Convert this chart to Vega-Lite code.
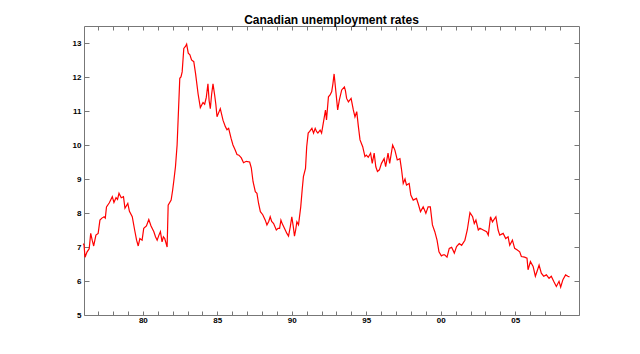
{
  "$schema": "https://vega.github.io/schema/vega-lite/v6.json",
  "width": 495,
  "height": 289,
  "autosize": {"type": "none"},
  "padding": {"left": 84, "top": 26, "right": 61, "bottom": 39},
  "background": "white",
  "title": {
    "text": "Canadian unemployment rates",
    "font": "Liberation Sans",
    "fontSize": 12,
    "fontWeight": "bold",
    "color": "black",
    "anchor": "middle",
    "baseline": "alphabetic",
    "offset": -10
  },
  "config": {
    "view": {"stroke": null},
    "axis": {
      "grid": false,
      "domainColor": "#777777",
      "tickColor": "#777777",
      "domainWidth": 1,
      "tickWidth": 1,
      "labelFont": "Liberation Sans",
      "labelFontSize": 8,
      "labelFontWeight": "bold",
      "labelColor": "black",
      "title": null
    }
  },
  "data": {"values": [
    {"t":1976.0,"u":7.1},{"t":1976.05,"u":7.06},{"t":1976.12,"u":6.7},{"t":1976.25,"u":6.85},{"t":1976.4,"u":6.95},
    {"t":1976.5,"u":7.4},{"t":1976.6,"u":7.2},{"t":1976.7,"u":7.03},{"t":1976.85,"u":7.35},{"t":1977.0,"u":7.4},
    {"t":1977.12,"u":7.79},{"t":1977.25,"u":7.85},{"t":1977.4,"u":7.89},{"t":1977.48,"u":7.85},{"t":1977.56,"u":8.18},
    {"t":1977.75,"u":8.3},{"t":1977.95,"u":8.48},{"t":1978.06,"u":8.31},{"t":1978.2,"u":8.45},{"t":1978.3,"u":8.4},
    {"t":1978.4,"u":8.58},{"t":1978.55,"u":8.45},{"t":1978.7,"u":8.48},{"t":1978.8,"u":8.14},{"t":1978.99,"u":8.28},
    {"t":1979.1,"u":8.05},{"t":1979.29,"u":7.89},{"t":1979.45,"u":7.5},{"t":1979.58,"u":7.2},{"t":1979.69,"u":7.03},
    {"t":1979.8,"u":7.25},{"t":1979.95,"u":7.2},{"t":1980.06,"u":7.55},{"t":1980.24,"u":7.62},{"t":1980.4,"u":7.81},
    {"t":1980.55,"u":7.62},{"t":1980.74,"u":7.45},{"t":1980.85,"u":7.3},{"t":1980.96,"u":7.2},{"t":1981.08,"u":7.35},
    {"t":1981.18,"u":7.45},{"t":1981.29,"u":7.15},{"t":1981.38,"u":7.3},{"t":1981.47,"u":7.25},{"t":1981.63,"u":7.0},
    {"t":1981.7,"u":8.23},{"t":1981.9,"u":8.38},{"t":1982.0,"u":8.67},{"t":1982.08,"u":8.95},{"t":1982.19,"u":9.36},
    {"t":1982.3,"u":10.0},{"t":1982.48,"u":11.96},{"t":1982.56,"u":12.0},{"t":1982.64,"u":12.15},{"t":1982.75,"u":12.84},
    {"t":1982.86,"u":12.9},{"t":1982.94,"u":12.97},{"t":1983.05,"u":12.7},{"t":1983.16,"u":12.65},{"t":1983.27,"u":12.5},
    {"t":1983.42,"u":12.45},{"t":1983.54,"u":12.1},{"t":1983.71,"u":11.5},{"t":1983.86,"u":11.1},{"t":1984.04,"u":11.25},
    {"t":1984.15,"u":11.2},{"t":1984.26,"u":11.4},{"t":1984.37,"u":11.8},{"t":1984.45,"u":11.3},{"t":1984.53,"u":11.07},
    {"t":1984.62,"u":11.5},{"t":1984.71,"u":11.8},{"t":1984.82,"u":11.47},{"t":1984.9,"u":11.2},{"t":1984.98,"u":10.83},
    {"t":1985.2,"u":11.07},{"t":1985.38,"u":10.73},{"t":1985.54,"u":10.54},{"t":1985.65,"u":10.45},{"t":1985.76,"u":10.49},
    {"t":1985.92,"u":10.2},{"t":1986.05,"u":10.0},{"t":1986.2,"u":9.85},{"t":1986.32,"u":9.72},{"t":1986.45,"u":9.7},
    {"t":1986.61,"u":9.62},{"t":1986.76,"u":9.48},{"t":1986.94,"u":9.52},{"t":1987.17,"u":9.5},{"t":1987.28,"u":9.33},
    {"t":1987.4,"u":8.92},{"t":1987.55,"u":8.63},{"t":1987.66,"u":8.58},{"t":1987.77,"u":8.28},{"t":1987.89,"u":8.04},
    {"t":1988.05,"u":7.95},{"t":1988.22,"u":7.79},{"t":1988.33,"u":7.65},{"t":1988.45,"u":7.75},{"t":1988.55,"u":7.89},
    {"t":1988.65,"u":7.75},{"t":1988.78,"u":7.69},{"t":1988.96,"u":7.5},{"t":1989.08,"u":7.55},{"t":1989.18,"u":7.55},
    {"t":1989.27,"u":7.79},{"t":1989.36,"u":7.68},{"t":1989.45,"u":7.6},{"t":1989.56,"u":7.5},{"t":1989.67,"u":7.4},
    {"t":1989.78,"u":7.32},{"t":1989.9,"u":7.6},{"t":1990.0,"u":7.89},{"t":1990.1,"u":7.6},{"t":1990.18,"u":7.32},
    {"t":1990.26,"u":7.5},{"t":1990.34,"u":7.74},{"t":1990.45,"u":7.65},{"t":1990.6,"u":8.18},{"t":1990.7,"u":8.7},
    {"t":1990.78,"u":9.07},{"t":1990.92,"u":9.31},{"t":1991.0,"u":9.95},{"t":1991.1,"u":10.35},{"t":1991.2,"u":10.4},
    {"t":1991.35,"u":10.49},{"t":1991.46,"u":10.35},{"t":1991.57,"u":10.49},{"t":1991.66,"u":10.4},{"t":1991.75,"u":10.35},
    {"t":1991.9,"u":10.44},{"t":1992.0,"u":10.35},{"t":1992.15,"u":10.74},{"t":1992.26,"u":11.03},{"t":1992.33,"u":10.74},
    {"t":1992.46,"u":11.42},{"t":1992.57,"u":11.47},{"t":1992.68,"u":11.57},{"t":1992.76,"u":11.8},{"t":1992.84,"u":12.09},
    {"t":1992.97,"u":11.52},{"t":1993.08,"u":11.03},{"t":1993.19,"u":11.32},{"t":1993.35,"u":11.62},{"t":1993.53,"u":11.71},
    {"t":1993.6,"u":11.6},{"t":1993.68,"u":11.37},{"t":1993.8,"u":11.27},{"t":1993.98,"u":11.37},{"t":1994.13,"u":11.03},
    {"t":1994.24,"u":10.83},{"t":1994.36,"u":10.98},{"t":1994.47,"u":10.54},{"t":1994.58,"u":10.15},{"t":1994.76,"u":9.95},
    {"t":1994.91,"u":9.66},{"t":1995.0,"u":9.7},{"t":1995.13,"u":9.64},{"t":1995.29,"u":9.76},{"t":1995.4,"u":9.46},
    {"t":1995.53,"u":9.76},{"t":1995.64,"u":9.36},{"t":1995.75,"u":9.22},{"t":1995.88,"u":9.27},{"t":1996.02,"u":9.46},
    {"t":1996.2,"u":9.6},{"t":1996.3,"u":9.36},{"t":1996.46,"u":9.76},{"t":1996.57,"u":9.46},{"t":1996.66,"u":9.7},
    {"t":1996.77,"u":10.0},{"t":1996.92,"u":9.85},{"t":1997.08,"u":9.56},{"t":1997.26,"u":9.6},{"t":1997.36,"u":9.3},
    {"t":1997.48,"u":8.87},{"t":1997.6,"u":9.0},{"t":1997.7,"u":8.82},{"t":1997.88,"u":8.87},{"t":1997.99,"u":8.53},
    {"t":1998.15,"u":8.38},{"t":1998.37,"u":8.43},{"t":1998.48,"u":8.28},{"t":1998.64,"u":8.04},{"t":1998.82,"u":8.18},
    {"t":1999.0,"u":7.99},{"t":1999.15,"u":8.18},{"t":1999.3,"u":8.18},{"t":1999.44,"u":7.65},{"t":1999.6,"u":7.45},
    {"t":1999.75,"u":7.2},{"t":1999.88,"u":6.86},{"t":2000.04,"u":6.74},{"t":2000.17,"u":6.77},{"t":2000.26,"u":6.77},
    {"t":2000.42,"u":6.7},{"t":2000.57,"u":6.96},{"t":2000.73,"u":6.99},{"t":2000.91,"u":6.82},{"t":2001.06,"u":7.01},
    {"t":2001.24,"u":7.1},{"t":2001.4,"u":7.05},{"t":2001.62,"u":7.2},{"t":2001.78,"u":7.5},{"t":2001.96,"u":8.01},
    {"t":2002.14,"u":7.89},{"t":2002.25,"u":7.69},{"t":2002.36,"u":7.79},{"t":2002.52,"u":7.5},{"t":2002.63,"u":7.55},
    {"t":2002.85,"u":7.5},{"t":2003.08,"u":7.45},{"t":2003.19,"u":7.35},{"t":2003.34,"u":7.89},{"t":2003.47,"u":7.74},
    {"t":2003.7,"u":7.89},{"t":2003.85,"u":7.5},{"t":2003.96,"u":7.35},{"t":2004.19,"u":7.4},{"t":2004.36,"u":7.25},
    {"t":2004.52,"u":7.3},{"t":2004.63,"u":7.05},{"t":2004.81,"u":7.2},{"t":2004.96,"u":6.96},{"t":2005.14,"u":6.91},
    {"t":2005.3,"u":6.86},{"t":2005.41,"u":6.72},{"t":2005.63,"u":6.7},{"t":2005.79,"u":6.67},{"t":2005.86,"u":6.33},
    {"t":2006.02,"u":6.57},{"t":2006.2,"u":6.43},{"t":2006.35,"u":6.14},{"t":2006.46,"u":6.28},{"t":2006.6,"u":6.47},
    {"t":2006.75,"u":6.23},{"t":2006.91,"u":6.14},{"t":2007.09,"u":6.18},{"t":2007.27,"u":6.08},{"t":2007.42,"u":6.14},
    {"t":2007.58,"u":5.99},{"t":2007.76,"u":5.84},{"t":2007.94,"u":5.99},{"t":2008.05,"u":5.82},{"t":2008.2,"u":6.04},
    {"t":2008.38,"u":6.18},{"t":2008.53,"u":6.14},{"t":2008.64,"u":6.12}
  ]},
  "resolve": {"axis": {"x": "independent", "y": "independent"}},
  "layer": [
    {
      "mark": {"type": "line", "color": "#ff0000", "strokeWidth": 1.2},
      "encoding": {
        "x": {
          "field": "t", "type": "quantitative",
          "scale": {"domain": [1976.05, 2009.28], "nice": false, "zero": false},
          "axis": {
            "orient": "bottom",
            "values": [1977,1978,1979,1980,1981,1982,1983,1984,1985,1986,1987,1988,1989,1990,1991,1992,1993,1994,1995,1996,1997,1998,1999,2000,2001,2002,2003,2004,2005,2006,2007,2008],
            "labelExpr": "datum.value % 5 != 0 ? '' : (datum.value >= 2000 ? '0' + (datum.value - 2000) : '' + (datum.value - 1900))",
            "tickSize": -4,
            "labelPadding": 5,
            "labelFlush": false,
            "labelOverlap": false
          }
        },
        "y": {
          "field": "u", "type": "quantitative",
          "scale": {"domain": [5, 13.5], "nice": false, "zero": false},
          "axis": {
            "orient": "left",
            "values": [5,6,7,8,9,10,11,12,13],
            "tickSize": -5,
            "labelPadding": 8,
            "labelFlush": false,
            "labelOverlap": false
          }
        }
      }
    },
    {
      "mark": {"type": "line", "strokeOpacity": 0},
      "encoding": {
        "x": {
          "field": "t", "type": "quantitative",
          "axis": {
            "orient": "top",
            "values": [1977,1978,1979,1980,1981,1982,1983,1984,1985,1986,1987,1988,1989,1990,1991,1992,1993,1994,1995,1996,1997,1998,1999,2000,2001,2002,2003,2004,2005,2006,2007,2008],
            "labels": false,
            "tickSize": -4
          }
        },
        "y": {
          "field": "u", "type": "quantitative",
          "axis": {
            "orient": "right",
            "values": [5,6,7,8,9,10,11,12,13],
            "labels": false,
            "tickSize": -5
          }
        }
      }
    }
  ]
}
